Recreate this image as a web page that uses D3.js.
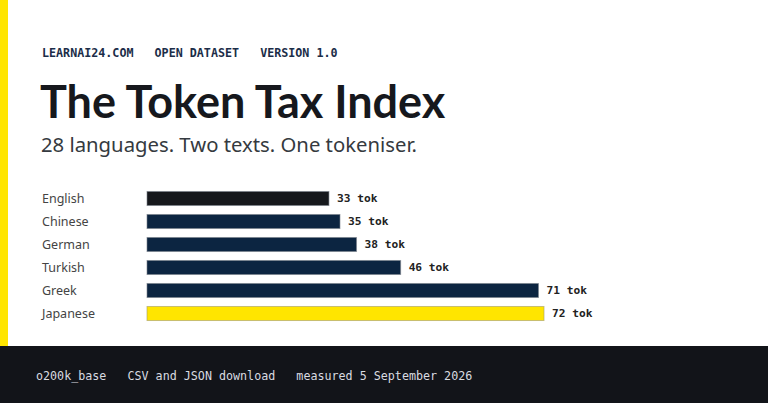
<!DOCTYPE html>
<html>
<head>
<meta charset="utf-8">
<script src="https://cdn.jsdelivr.net/npm/d3@7"></script>
<style>
  html, body { margin: 0; padding: 0; background: #fff; }
  svg { display: block; }
</style>
</head>
<body>
<div class="tokenChart"></div>
<script>
const languages = ["English", "Chinese", "German", "Turkish", "Greek", "Japanese"]
const tokens = [33, 35, 38, 46, 71, 72]
const headerItems = ["LEARNAI24.COM", "OPEN DATASET", "VERSION 1.0"]
const footerItems = ["o200k_base", "CSV and JSON download", "measured 5 September 2026"]
const title = "The Token Tax Index"
const subtitle = "28 languages. Two texts. One tokeniser."

const width = 768
const height = 403
const sans = "'Noto Sans', 'Open Sans', sans-serif"
const mono = "'DejaVu Sans Mono', monospace"

const data = languages.map((lang, i) => ({ lang, value: tokens[i] }))

const svg = d3.select(".tokenChart").append("svg")
  .attr("width", width).attr("height", height)
  .attr("viewBox", `0 0 ${width} ${height}`)

// yellow edge stripe
svg.append("rect").attr("x", 0).attr("y", 0).attr("width", 8).attr("height", 346).attr("fill", "#ffe500")

// header line
svg.append("text")
  .attr("x", 42).attr("y", 57)
  .attr("xml:space", "preserve")
  .attr("font-family", mono).attr("font-weight", "bold").attr("font-size", 11.7)
  .attr("fill", "#1b2d48")
  .text(headerItems.join("   "))

svg.append("text")
  .attr("x", 40).attr("y", 117.5)
  .attr("font-family", "Lato, sans-serif").attr("font-weight", "bold").attr("font-size", 45)
  .attr("fill", "#16181d")
  .text(title)

svg.append("text")
  .attr("x", 41).attr("y", 152)
  .attr("font-family", sans).attr("font-size", 20.3)
  .attr("fill", "#353a40")
  .text(subtitle)

const xScale = d3.scaleLinear().domain([0, d3.max(tokens)]).range([147, 544])
const yScale = d3.scaleBand().domain(languages).range([187, 325]).paddingInner(0.39).paddingOuter(0.195)

const colorFor = d => d.lang === "English" ? "#16181c" : d.lang === "Japanese" ? "#ffe500" : "#0c2541"

const graph = svg.append("g")

graph.selectAll(".lang").data(data).enter().append("text")
  .attr("class", "lang")
  .attr("x", 42)
  .attr("y", d => yScale(d.lang) + yScale.bandwidth() / 2)
  .attr("dy", "0.35em")
  .attr("font-family", sans).attr("font-size", 12.5)
  .attr("fill", "#444")
  .text(d => d.lang)

graph.selectAll(".bar").data(data).enter().append("rect")
  .attr("class", "bar")
  .attr("x", xScale(0))
  .attr("y", d => yScale(d.lang))
  .attr("width", d => xScale(d.value) - xScale(0))
  .attr("height", yScale.bandwidth())
  .attr("fill", colorFor)
  .attr("stroke", d => d.lang === "Japanese" ? "#a39c66" : "#7a808a")
  .attr("stroke-opacity", 0.6)
  .attr("stroke-width", 1)

graph.selectAll(".val").data(data).enter().append("text")
  .attr("class", "val")
  .attr("x", d => xScale(d.value) + 8)
  .attr("y", d => yScale(d.lang) + yScale.bandwidth() / 2)
  .attr("dy", "0.35em")
  .attr("font-family", mono).attr("font-weight", "bold").attr("font-size", 11.2)
  .attr("fill", "#222")
  .text(d => `${d.value} tok`)

// footer band
svg.append("rect").attr("x", 0).attr("y", 346).attr("width", width).attr("height", height - 346).attr("fill", "#121419")

svg.append("text")
  .attr("x", 36).attr("y", 380)
  .attr("xml:space", "preserve")
  .attr("font-family", mono).attr("font-size", 11.7)
  .attr("fill", "#d9dbe0")
  .text(footerItems.join("   "))
</script>
</body>
</html>
